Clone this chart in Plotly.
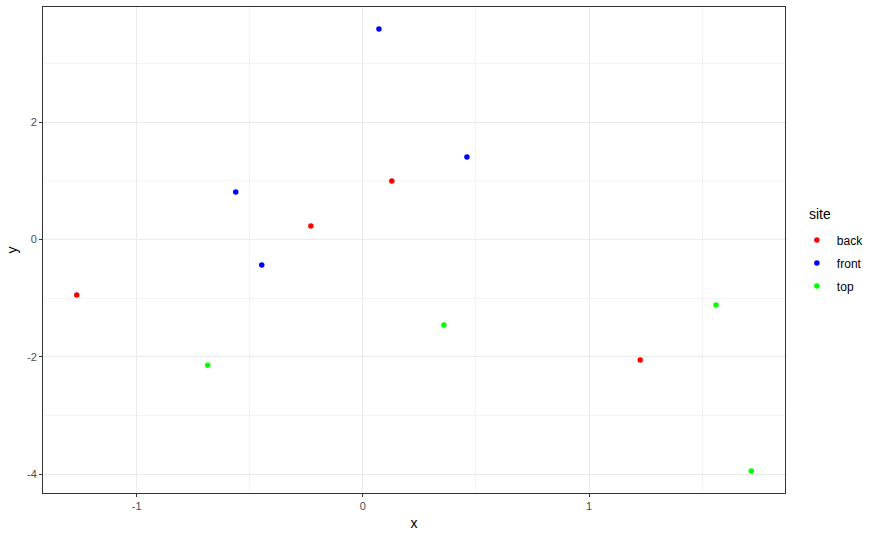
import plotly.graph_objects as go

sites = ["back", "front", "top"]
colors = {"back": "#FF0000", "front": "#0000FF", "top": "#00FF00"}

back_x = [-1.265, -0.230, 0.128, 1.226]
back_y = [-0.945, 0.230, 0.996, -2.051]
front_x = [-0.562, -0.447, 0.071, 0.460]
front_y = [0.808, -0.434, 3.583, 1.404]
top_x = [-0.686, 0.358, 1.561, 1.717]
top_y = [-2.143, -1.455, -1.115, -3.940]

data = {"back": (back_x, back_y), "front": (front_x, front_y), "top": (top_x, top_y)}

x_ticks = [-1, 0, 1]
y_ticks = [-4, -2, 0, 2]

fig = go.Figure()
for s in sites:
    xs, ys = data[s]
    fig.add_trace(go.Scatter(x=xs, y=ys, mode="markers", name=s, legendgroup=s,
                             marker=dict(color=colors[s], size=5.5, line=dict(width=0))))

allx = back_x + front_x + top_x
ally = back_y + front_y + top_y
xr = [min(allx), max(allx)]
yr = [min(ally), max(ally)]
xe = (xr[1] - xr[0]) * 0.05
ye = (yr[1] - yr[0]) * 0.05

axis_common = dict(
    showgrid=True, gridcolor="#EBEBEB", gridwidth=1,
    minor=dict(showgrid=True, gridcolor="#F3F3F3", gridwidth=0.6),
    zeroline=False, showline=True, linecolor="#333333", linewidth=1, mirror=True,
    ticks="outside", ticklen=3, tickcolor="#333333", tickwidth=1,
    tickfont=dict(color="#4D4D4D", size=11),
    title_font=dict(color="#000000", size=14),
)

fig.update_xaxes(range=[xr[0] - xe, xr[1] + xe], tickvals=x_ticks,
                 ticktext=[str(v) for v in x_ticks], title_text="x",
                 title_standoff=6, minor_tickvals=[-1.5, -0.5, 0.5, 1.5], **axis_common)
fig.update_yaxes(range=[yr[0] - ye, yr[1] + ye], tickvals=y_ticks,
                 ticktext=[str(v) for v in y_ticks], title_text="y",
                 title_standoff=6, minor_tickvals=[-3, -1, 1, 3], **axis_common)
fig.update_xaxes(minor_ticks="")
fig.update_yaxes(minor_ticks="")

fig.update_layout(
    width=878, height=538,
    margin=dict(l=43, r=93, t=7, b=45),
    plot_bgcolor="white", paper_bgcolor="white",
    font=dict(family="Liberation Sans, Arial, sans-serif", color="#000000"),
    legend=dict(font=dict(size=12), bgcolor="rgba(0,0,0,0)",
                x=1.016, xanchor="left", y=0.473, yanchor="middle",
                itemwidth=30, tracegroupgap=4),
)
fig.add_annotation(text="site", xref="paper", yref="paper", x=(807 - 43) / 742,
                   y=(493 - 214) / 486, xanchor="left", yanchor="middle",
                   showarrow=False, font=dict(size=14, color="#000000"))

fig.write_html("out.html", config={"displayModeBar": False},
               post_script="document.body.style.margin='0';")
